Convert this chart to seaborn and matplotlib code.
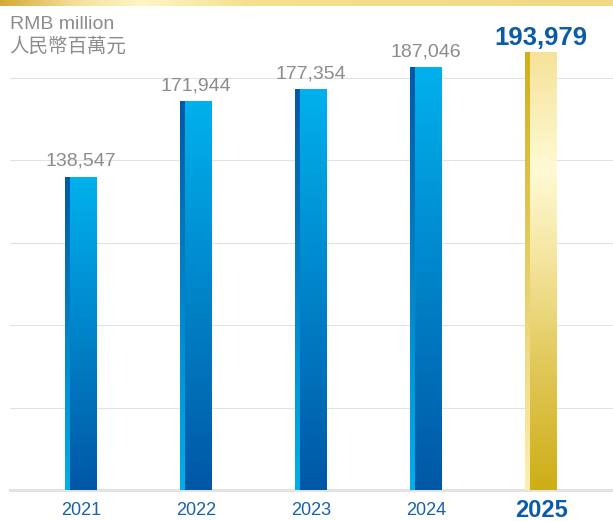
"""Revenue bar chart, 2021-2025
"""

import numpy as np
import matplotlib.pyplot as plt
import matplotlib.colors as mcolors
import seaborn as sns
import pandas as pd

years = ['2021', '2022', '2023', '2024', '2025']
revenue = [138547, 171944, 177354, 187046, 193979]
value_labels = ['138,547', '171,944', '177,354', '187,046', '193,979']
grid_values = [36500, 73000, 109500, 146000, 182500]
unit_en = 'RMB million'
unit_zh = '人民幣百萬元'

GREY = '#8c8c8c'
BLUE_TEXT = '#1762ad'
BOLD_BLUE = '#0b5ba8'

W, H = 613, 521

sns.set_style('white')
plt.rcParams['font.family'] = ['Liberation Sans', 'Noto Sans CJK TC', 'DejaVu Sans']

# gradients go bottom -> top
blue_body = mcolors.LinearSegmentedColormap.from_list('bb', ['#0057a6', '#00b1ec'])
blue_edge = mcolors.LinearSegmentedColormap.from_list('be', ['#00afeb', '#0059a8'])
gold_body = mcolors.LinearSegmentedColormap.from_list(
    'gb', [(0, '#ceae15'), (0.3, '#e2ca5e'), (0.52, '#f4e49c'),
           (0.73, '#fffad5'), (1, '#f6e39a')])
gold_edge = mcolors.LinearSegmentedColormap.from_list(
    'ge', [(0, '#fdf0b2'), (0.5, '#e6cf66'), (1, '#d1af1a')])
band = mcolors.LinearSegmentedColormap.from_list(
    'band', [(0, '#d4aa38'), (0.12, '#f3df98'), (0.23, '#fef6c8'),
             (0.4, '#f5e08e'), (1, '#f1d983')])

df = pd.DataFrame({'year': years, 'revenue': revenue})

fig = plt.figure(figsize=(W / 100, H / 100), dpi=100)
ax = fig.add_axes([10 / W, 31 / H, 603 / W, 480 / H])

sns.barplot(data=df, x='year', y='revenue', width=32 / 115, errorbar=None, ax=ax)

grad = np.linspace(0, 1, 256).reshape(-1, 1)
for i, p in enumerate(ax.patches):
    x0, w, h = p.get_x(), p.get_width(), p.get_height()
    p.set_facecolor('none')
    p.set_edgecolor('none')
    strip = w * 5 / 32
    last = years[i] == '2025'
    body_cm, edge_cm = (gold_body, gold_edge) if last else (blue_body, blue_edge)
    ax.imshow(grad, cmap=edge_cm, origin='lower', aspect='auto',
              extent=[x0, x0 + strip, 0, h], zorder=3)
    ax.imshow(grad, cmap=body_cm, origin='lower', aspect='auto',
              extent=[x0 + strip, x0 + w, 0, h], zorder=3)

    ax.annotate(value_labels[i], (x0 + w / 2, h),
                xytext=(0, 1.8 if last else 5.3), textcoords='offset points',
                ha='center', va='bottom',
                fontsize=18.5 if last else 14,
                fontweight='bold' if last else 'normal',
                color=BOLD_BLUE if last else GREY)

ax.set_xlim(-71 / 115, 532 / 115)
ax.set_ylim(0, 480 / (312.7 / 138547))
ax.set_yticks(grid_values)
ax.yaxis.grid(True, color='#e2e2e2', linewidth=0.75)
ax.set_axisbelow(True)
ax.tick_params(axis='both', length=0)
ax.tick_params(axis='x', pad=15)
ax.set_yticklabels([])
ax.set_xlabel('')
ax.set_ylabel('')
for side in ['top', 'left', 'right']:
    ax.spines[side].set_visible(False)
ax.spines['bottom'].set_color('#e3e3e3')
ax.spines['bottom'].set_linewidth(2.2)

for lab in ax.get_xticklabels():
    lab.set_verticalalignment('center')
    lab.set_color(BLUE_TEXT)
    if lab.get_text() == '2025':
        lab.set_fontsize(17)
        lab.set_fontweight('bold')
        lab.set_color(BOLD_BLUE)
    else:
        lab.set_fontsize(13)

# unit labels
fig.text(10 / W, 1 - 29 / H, unit_en, fontsize=14, color=GREY, va='baseline', ha='left')
fig.text(9 / W, 1 - 46.5 / H, unit_zh, fontsize=14, color=GREY, va='center', ha='left',
         family=['Noto Sans CJK TC', 'DejaVu Sans'])

# top decorative band
band_ax = fig.add_axes([0, 1 - 6.5 / H, 1, 6.5 / H])
band_ax.imshow(np.linspace(0, 1, 512).reshape(1, -1), cmap=band, aspect='auto')
band_ax.axis('off')

fig.savefig('out.png', dpi=100)
